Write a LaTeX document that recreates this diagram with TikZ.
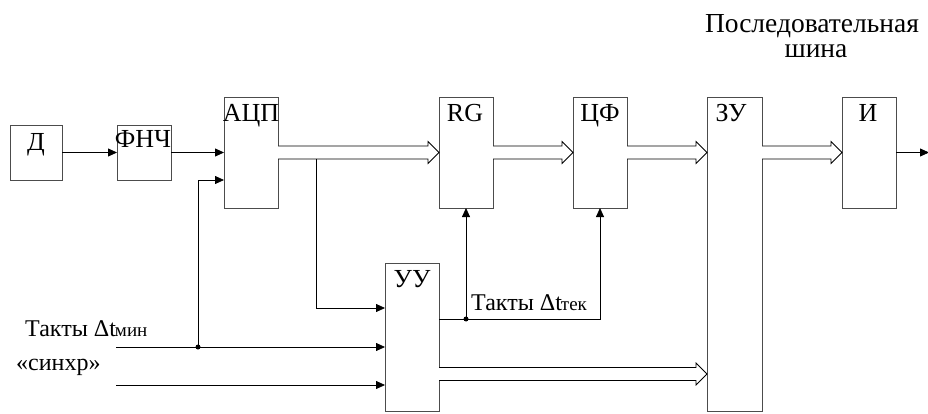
\documentclass[tikz,border=0pt]{standalone}
\usepackage{fontspec}
\setmainfont{Liberation Serif}
\newfontfamily\tnrfont{Liberation Serif}
\usetikzlibrary{arrows.meta,calc}
\newcommand\busline[2]{\draw[bus] let \p1=#1, \p2=#2 in (\x1,\y1+6.5pt) -- (\x2-11pt,\y1+6.5pt) -- (\x2-11pt,\y1+11pt) -- (\x2,\y1) -- (\x2-11pt,\y1-11pt) -- (\x2-11pt,\y1-6.5pt) -- (\x1,\y1-6.5pt);}
\newcommand\smallsub[1]{{\fontsize{19}{19}\selectfont\kern-1pt #1}}
\begin{document}
\begin{tikzpicture}[x=1pt,y=-1pt,
  box/.style={draw=black!70,line width=0.9pt,fill=white,inner sep=0pt,outer sep=0pt,rectangle},
  lbl/.style={inner sep=0pt,font=\tnrfont\fontsize{26}{30}\selectfont,anchor=base},
  txt/.style={inner sep=0pt,font=\tnrfont\fontsize{24}{28}\selectfont,anchor=base west},
  hdr/.style={inner sep=0pt,font=\tnrfont\fontsize{27.5}{32}\selectfont,anchor=base},
  arr/.style={draw=black,line width=0.8pt,-{Triangle[length=9pt,width=8pt]}},
  bus/.style={draw=black,line width=0.8pt,fill=white},
  dot/.style={circle,fill=black,inner sep=0pt,minimum size=5pt}]
\path[use as bounding box,fill=white] (0,0) rectangle (928,414);
% boxes
\node[box,minimum width=52pt,minimum height=55pt] (d) at (36,152.5) {};
\node[box,minimum width=54pt,minimum height=55pt] (fnch) at (144,152.5) {};
\node[box,minimum width=54pt,minimum height=111pt] (adc) at (251,152.5) {};
\node[box,minimum width=54pt,minimum height=111pt] (rg) at (466,152.5) {};
\node[box,minimum width=54pt,minimum height=111pt] (cf) at (600,152.5) {};
\node[box,minimum width=55pt,minimum height=314pt] (zu) at (734.5,254) {};
\node[box,minimum width=54pt,minimum height=111pt] (i) at (869,152.5) {};
\node[box,minimum width=54pt,minimum height=148pt] (uu) at (412,337) {};
% box labels
\node[lbl] (td) at (36,151) {Д};
\node[lbl] (tfnch) at (143,148) {ФНЧ};
\node[lbl] (tadc) at (251,122) {АЦП};
\node[lbl] (trg) at (465,122) {RG};
\node[lbl] (tcf) at (600,122) {ЦФ};
\node[lbl] (tzu) at (731,122) {ЗУ};
\node[lbl] (ti) at (868,122) {И};
\node[lbl] (tuu) at (412,287) {УУ};
% free texts
\node[hdr] (bus1) at (812,33) {Последовательная};
\node[hdr] (bus2) at (816,58) {шина};
\node[txt] (tmin) at (25,336) {Такты Δt\smallsub{мин}};
\node[txt] (sync) at (16,370) {«синхр»};
\node[txt] (ttek) at (471,310) {Такты Δt\smallsub{тек}};
% coordinates
\coordinate (in1) at (116,347);
\coordinate (in2) at (116,385);
\coordinate (j1) at (198,347);
\coordinate (br) at ($(adc.east)+(38,6.5)$);
\coordinate (uuo) at ($(uu.east)+(0,-18)$);
\coordinate (j2) at (rg.south |- uuo);
\coordinate (uubus) at ($(uu.east)+(0,37)$);
\coordinate (out) at (929,152.5);
% connectors
\draw[arr] (d.east) -- (fnch.west);
\draw[arr] (fnch.east) -- (adc.west |- fnch.east);
\draw[arr] (j1) |- ($(adc.west)+(0,27.5)$);
\draw[arr] (in1) -- (uu.west |- in1);
\draw[arr] (in2) -- (uu.west |- in2);
\busline{(adc.east)}{(rg.west)}
\busline{(rg.east)}{(cf.west)}
\busline{(cf.east)}{(zu.west |- cf.east)}
\busline{(zu.east |- i.west)}{(i.west)}
\busline{(uubus)}{(zu.west |- uubus)}
\draw[arr] (br) |- ($(uu.west)+(0,-29)$);
\draw[arr] (uuo) -| (cf.south);
\draw[arr] (j2) -- (rg.south);
\draw[arr] (i.east) -- (out);
\node[dot] (dot1) at (j1) {};
\node[dot] (dot2) at (j2) {};
\end{tikzpicture}
\end{document}
